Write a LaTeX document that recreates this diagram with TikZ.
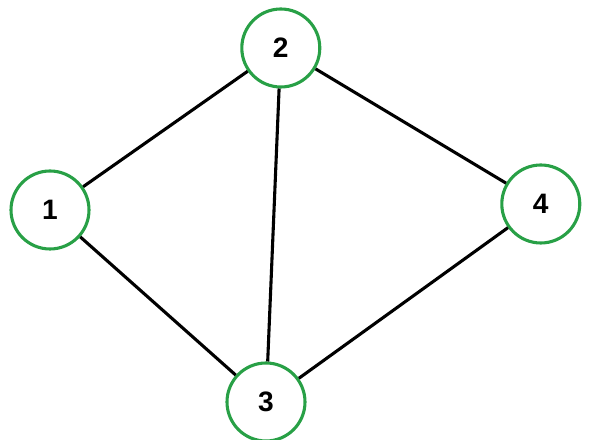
\documentclass[tikz,border=0pt]{standalone}
\usepackage{fontspec}
\setmainfont{Liberation Sans}
\usetikzlibrary{positioning}
\definecolor{nodegreen}{RGB}{40,160,70}
\begin{document}
\begin{tikzpicture}[
    % Styles
    vertex/.style={ % Graph vertex
        circle,
        minimum size=1.95cm,
        draw=nodegreen,
        line width=2.2pt,
        fill=white,
        font=\fontsize{20}{24}\selectfont\bfseries
    },
    edge/.style={
        line width=2.2pt
    }
]
    \useasboundingbox (0,0) rectangle (15,11);
    % Graph vertices
    \node[vertex] (v1) at (1.25,5.75) {1};
    \node[vertex] (v2) at (7.02,9.8) {2};
    \node[vertex] (v3) at (6.65,0.95) {3};
    \node[vertex] (v4) at (13.52,5.9) {4};

    % Graph edges
    \draw[edge] (v1) -- (v2);
    \draw[edge] (v1) -- (v3);
    \draw[edge] (v2) -- (v3);
    \draw[edge] (v2) -- (v4);
    \draw[edge] (v3) -- (v4);
\end{tikzpicture}
\end{document}
